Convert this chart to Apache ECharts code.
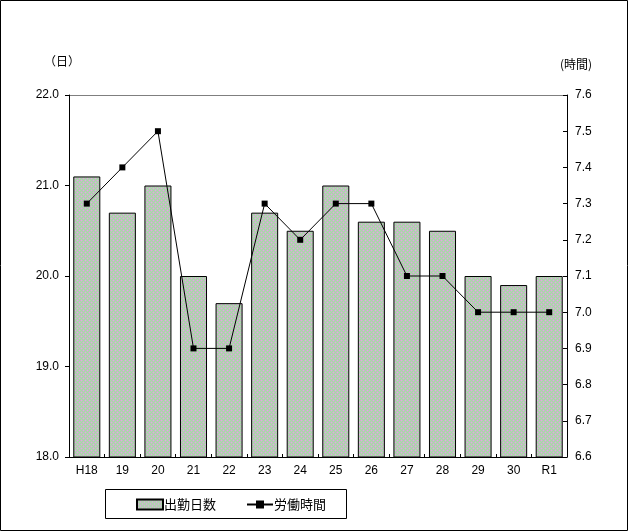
<!DOCTYPE html>
<html><head><meta charset="utf-8">
<script src="https://cdn.jsdelivr.net/npm/echarts@6/dist/echarts.min.js"></script>
<style>html,body{margin:0;padding:0;background:#fff}#c{width:629px;height:532px}</style>
</head><body><div id="c"></div>
<script>
const categories = ['H18','19','20','21','22','23','24','25','26','27','28','29','30','R1'];
const daysValues = [21.1,20.7,21.0,20.0,19.7,20.7,20.5,21.0,20.6,20.6,20.5,20.0,19.9,20.0];
const hoursValues = [7.3,7.4,7.5,6.9,6.9,7.3,7.2,7.3,7.3,7.1,7.1,7.0,7.0,7.0];

const pc = document.createElement('canvas');
pc.width = 4; pc.height = 4;
const ctx = pc.getContext('2d');
for (let y=0;y<4;y++) for (let x=0;x<4;x++){
  let col;
  if ((x+y)%2===0) col = '#c0c0c0';
  else col = ((x + (y>>1)*2) % 4 === 1) ? '#e4a8e4' : '#a4dca4';
  ctx.fillStyle = col; ctx.fillRect(x,y,1,1);
}
const font = "'Liberation Sans Narrow','Arial Narrow','Liberation Sans',sans-serif";
const chart = echarts.init(document.getElementById('c'), null, {renderer:'canvas'});
chart.setOption({
  animation:false,
  backgroundColor:'#fff',
  grid:{left:69,right:62,top:95,bottom:75},
  legend:{
    left:131, top:493, itemGap:30, itemWidth:26, itemHeight:10,
    textStyle:{fontFamily:"'Noto Sans CJK JP',sans-serif",fontSize:13,color:'#000',padding:[0,0,0,-4]},
    data:[{name:'出勤日数',icon:'rect'},{name:'労働時間'}]
  },
  xAxis:{
    type:'category', data:categories,
    axisLine:{lineStyle:{color:'#000',width:1}},
    axisTick:{show:true,inside:true,length:3,lineStyle:{color:'#000'}},
    axisLabel:{color:'#000',fontFamily:font,fontSize:12,margin:8}
  },
  yAxis:[{
    type:'value', min:18, max:22, interval:1,
    axisLine:{show:true,lineStyle:{color:'#000'}},
    axisTick:{show:true,length:4,lineStyle:{color:'#000'}},
    splitLine:{show:false},
    axisLabel:{color:'#000',fontFamily:font,fontSize:12,margin:10,formatter:v=>v.toFixed(1)}
  },{
    type:'value', min:6.6, max:7.6, interval:0.1,
    axisLine:{show:true,lineStyle:{color:'#000'}},
    axisTick:{show:true,inside:true,length:4,lineStyle:{color:'#000'}},
    splitLine:{show:false},
    axisLabel:{color:'#000',fontFamily:font,fontSize:12,margin:8,formatter:v=>v.toFixed(1)}
  }],
  graphic:[
    {type:'rect',shape:{x:0.5,y:0.5,width:627,height:530},style:{fill:null,stroke:'#000',lineWidth:1},silent:true},
    {type:'rect',shape:{x:105.5,y:489.5,width:241,height:29},style:{fill:null,stroke:'#000',lineWidth:1},silent:true},
    {type:'text',left:44,top:55,style:{text:'（日）',font:"12px 'Noto Sans CJK JP',sans-serif",fill:'#000'}},
    {type:'text',left:560,top:58,style:{text:'(時間)',font:"12px 'Noto Sans CJK JP',sans-serif",fill:'#000'}},
    {type:'rect',shape:{x:69.5,y:95,width:497,height:0.5},style:{fill:'#000'},silent:true}
  ],
  series:[{
    name:'出勤日数', type:'bar', data:daysValues, yAxisIndex:0,
    barCategoryGap:'24%',
    itemStyle:{color:{image:pc,repeat:'repeat'},borderColor:'#000',borderWidth:1}
  },{
    name:'労働時間', type:'line', data:hoursValues, yAxisIndex:1,
    symbol:'rect', symbolSize:6,
    lineStyle:{color:'#000',width:1},
    itemStyle:{color:'#000'}
  }]
});
</script></body></html>
